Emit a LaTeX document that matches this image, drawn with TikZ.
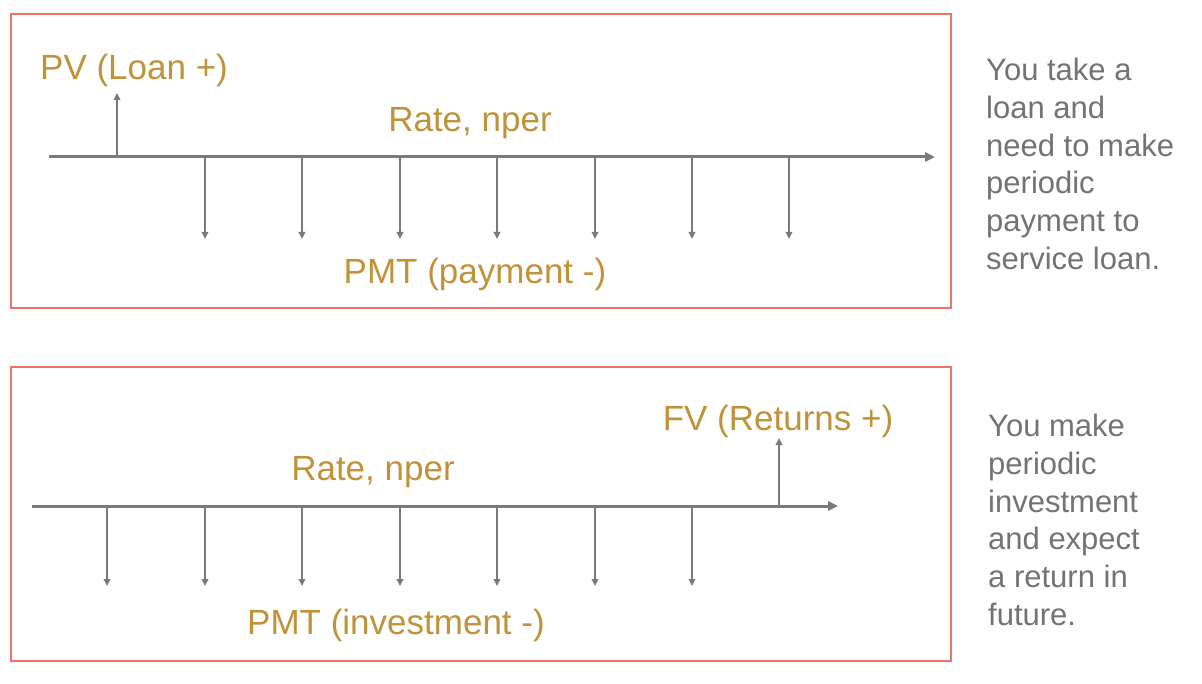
\documentclass[tikz,border=0pt]{standalone}
\usepackage{fontspec}
\setmainfont{Liberation Sans}
\usetikzlibrary{arrows.meta}
\definecolor{gold}{HTML}{C0923A}
\definecolor{linegray}{HTML}{7A7A7A}
\definecolor{txtgray}{HTML}{737373}
\definecolor{boxred}{HTML}{EE7468}
\begin{document}
\begin{tikzpicture}[x=1pt,y=-1pt,
  frame/.style={draw=boxred,line width=1.2pt},
  timeline/.style={draw=linegray,line width=3pt,-{Triangle[length=10pt,width=9pt]}},
  flow/.style={draw=linegray,line width=2pt,-{Triangle[length=7pt,width=6.5pt]}},
  lbl/.style={text=gold,font=\fontsize{35}{42}\selectfont,inner sep=0pt,anchor=base},
  note/.style={text=txtgray,font=\fontsize{31}{37.7}\selectfont,inner sep=0pt,anchor=north west,align=left}]
\useasboundingbox (0,0) rectangle (1202,684);
\fill[white] (0,0) rectangle (1202,684);
% frames
\draw[frame] (11,14) rectangle (951,308);
\draw[frame] (11,367) rectangle (951,661);
% ---- top panel ----
\coordinate (a0) at (49,157);
\coordinate (a1) at (935,157);
\draw[timeline] (a0) -- (a1);
\coordinate (pvb) at (117,157);
\coordinate (pvt) at (117,93);
\draw[flow] (pvb) -- (pvt);
\foreach \i/\x in {1/205,2/302,3/400,4/497,5/595,6/692,7/789}{
  \coordinate (t\i) at (\x,157);
  \coordinate (b\i) at (\x,239);
  \draw[flow] (t\i) -- (b\i);
}
\node[lbl,anchor=base west] (pv) at (40,80) {PV (Loan +)};
\node[lbl] (rate1) at (470,132) {Rate, nper};
\node[lbl] (pmt1) at (475,284) {PMT (payment -)};
\node[note] (note1) at (986,58) {You take a\\loan and\\need to make\\periodic\\payment to\\service loan.};
% ---- bottom panel ----
\coordinate (c0) at (32,506);
\coordinate (c1) at (838,506);
\draw[timeline] (c0) -- (c1);
\coordinate (fvb) at (779,506);
\coordinate (fvt) at (779,438);
\draw[flow] (fvb) -- (fvt);
\foreach \i/\x in {1/107,2/205,3/302,4/400,5/497,6/595,7/692}{
  \coordinate (u\i) at (\x,506);
  \coordinate (d\i) at (\x,586);
  \draw[flow] (u\i) -- (d\i);
}
\node[lbl] (fv) at (778,430) {FV (Returns +)};
\node[lbl] (rate2) at (373,480) {Rate, nper};
\node[lbl] (pmt2) at (396,634) {PMT (investment -)};
\node[note] (note2) at (988,414) {You make\\periodic\\investment\\and expect\\a return in\\future.};
\end{tikzpicture}
\end{document}
